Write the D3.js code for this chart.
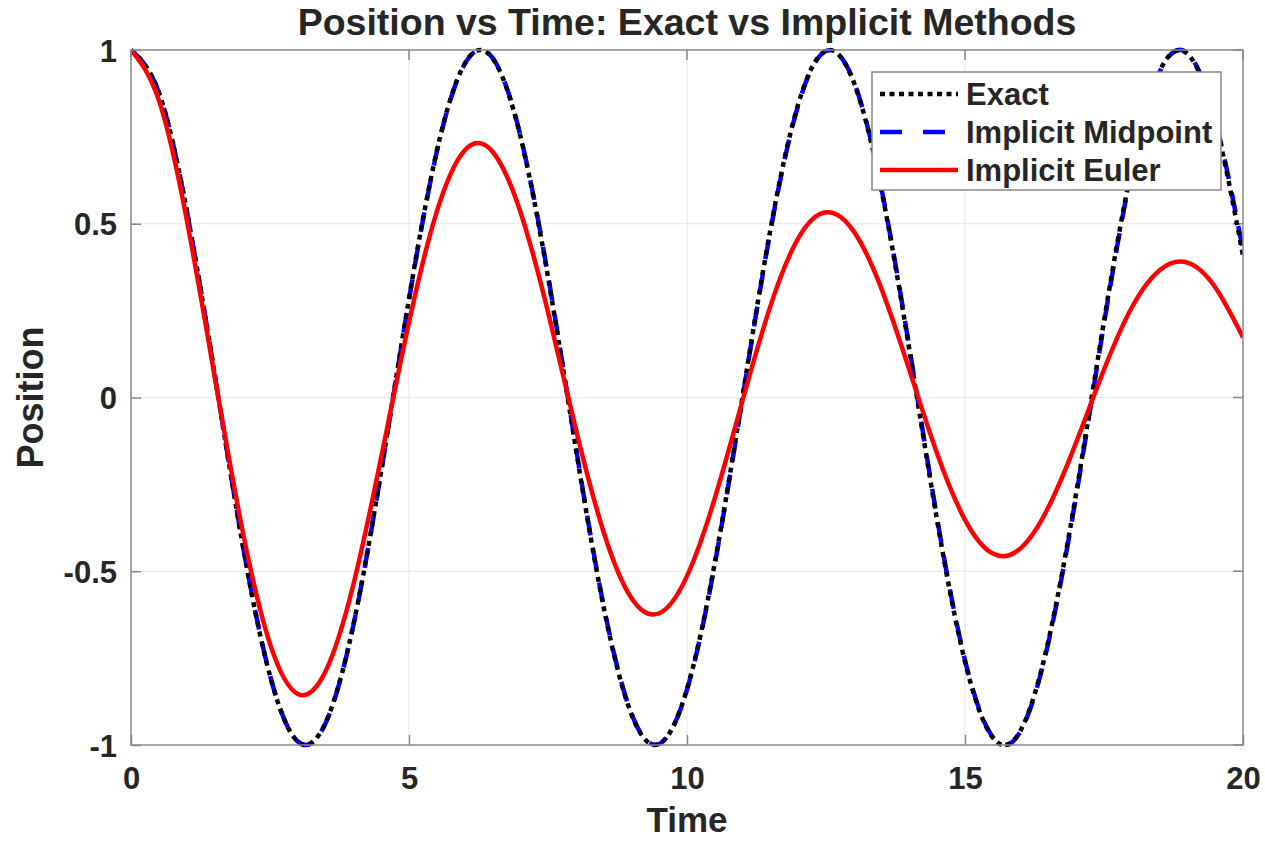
<!DOCTYPE html>
<html>
<head>
<meta charset="utf-8">
<script src="https://cdn.jsdelivr.net/npm/d3@7"></script>
<style>
  html, body { margin: 0; padding: 0; background: #fff; }
  text { font-family: "Liberation Sans", Arial, Helvetica, sans-serif; font-weight: bold; fill: #262626; }
</style>
</head>
<body>
<div id="chart"></div>
<script>
// time samples (step 0.5 s)
const time = [0, 0.5, 1, 1.5, 2, 2.5, 3, 3.5, 4, 4.5, 5, 5.5, 6, 6.5, 7, 7.5, 8, 8.5, 9, 9.5, 10,
  10.5, 11, 11.5, 12, 12.5, 13, 13.5, 14, 14.5, 15, 15.5, 16, 16.5, 17, 17.5, 18, 18.5, 19, 19.5, 20]

const exact = [1, 0.878, 0.540, 0.071, -0.416, -0.801, -0.990, -0.936, -0.654, -0.211, 0.284,
  0.709, 0.960, 0.977, 0.754, 0.347, -0.146, -0.602, -0.911, -0.997, -0.839,
  -0.476, 0.004, 0.483, 0.844, 0.998, 0.907, 0.595, 0.137, -0.355, -0.760,
  -0.979, -0.958, -0.700, -0.275, 0.220, 0.660, 0.939, 0.989, 0.795, 0.408]

const midpoint = [1, 0.878, 0.540, 0.071, -0.415, -0.800, -0.990, -0.937, -0.655, -0.213, 0.281,
  0.707, 0.959, 0.978, 0.756, 0.351, -0.142, -0.599, -0.909, -0.997, -0.841,
  -0.480, 0.000, 0.479, 0.841, 0.997, 0.909, 0.599, 0.143, -0.349, -0.756,
  -0.977, -0.960, -0.705, -0.282, 0.212, 0.654, 0.936, 0.991, 0.800, 0.424]

const euler = [1, 0.856, 0.514, 0.065, -0.378, -0.709, -0.853, -0.788, -0.538, -0.172, 0.216,
  0.535, 0.711, 0.708, 0.536, 0.246, -0.090, -0.387, -0.577, -0.621, -0.514,
  -0.290, -0.008, 0.263, 0.458, 0.533, 0.478, 0.312, 0.079, -0.162, -0.352,
  -0.449, -0.434, -0.316, -0.129, 0.080, 0.259, 0.366, 0.388, 0.317, 0.173]

const xTicks = [0, 5, 10, 15, 20]
const yTicks = [-1, -0.5, 0, 0.5, 1]

const seriesNames = ['Exact', 'Implicit Midpoint', 'Implicit Euler']

const W = 1265, H = 841
const m = { left: 131, right: 22, top: 50, bottom: 96 }
const iw = W - m.left - m.right,
    ih = H - m.top - m.bottom

const svg = d3.select('#chart')
    .append('svg')
    .attr('width', W)
    .attr('height', H)

const x = d3.scaleLinear().domain([0, 20]).range([m.left, m.left + iw])
const y = d3.scaleLinear().domain([-1, 1]).range([m.top + ih, m.top])

// grid
svg.append('g').selectAll('line')
    .data(xTicks.slice(1, -1))
    .enter()
    .append('line')
    .attr('x1', d => x(d)).attr('x2', d => x(d))
    .attr('y1', m.top).attr('y2', m.top + ih)
    .attr('stroke', '#e6e6e6').attr('stroke-width', 1)
svg.append('g').selectAll('line')
    .data(yTicks.slice(1, -1))
    .enter()
    .append('line')
    .attr('x1', m.left).attr('x2', m.left + iw)
    .attr('y1', d => y(d)).attr('y2', d => y(d))
    .attr('stroke', '#e6e6e6').attr('stroke-width', 1)

// axes (ticks pointing inward, box on)
const xAxis = d3.axisBottom(x).tickValues(xTicks).tickSizeInner(-10).tickSizeOuter(0).tickPadding(14)
const yAxis = d3.axisLeft(y).tickValues(yTicks).tickSizeInner(-10).tickSizeOuter(0).tickPadding(14)
    .tickFormat(d => d)

const gx = svg.append('g')
    .attr('transform', `translate(0,${m.top + ih})`)
    .call(xAxis)
const gy = svg.append('g')
    .attr('transform', `translate(${m.left},0)`)
    .call(yAxis)
for (const g of [gx, gy]) {
    g.select('.domain').remove()
    g.selectAll('.tick line').attr('stroke', '#888').attr('stroke-width', 1.5)
    g.selectAll('.tick text')
        .attr('font-size', 31)
        .attr('fill', '#262626')
        .style('font-family', '"Liberation Sans", Arial, sans-serif')
        .style('font-weight', 'bold')
}
gx.selectAll('.tick text').attr('dy', '0.97em')
gy.selectAll('.tick text').attr('dy', '0.36em')
// top/right tick marks
svg.append('g').selectAll('line')
    .data(xTicks)
    .enter()
    .append('line')
    .attr('x1', d => x(d)).attr('x2', d => x(d))
    .attr('y1', m.top).attr('y2', m.top + 10)
    .attr('stroke', '#888').attr('stroke-width', 1.5)
svg.append('g').selectAll('line')
    .data(yTicks)
    .enter()
    .append('line')
    .attr('x1', m.left + iw).attr('x2', m.left + iw - 10)
    .attr('y1', d => y(d)).attr('y2', d => y(d))
    .attr('stroke', '#888').attr('stroke-width', 1.5)

// curves
const mkLine = vals => d3.line()
    .x((d, i) => x(time[i]))
    .y(d => y(d))
    .curve(d3.curveNatural)(vals)

svg.append('defs').append('clipPath').attr('id', 'clip')
    .append('rect').attr('x', m.left).attr('y', m.top - 4).attr('width', iw).attr('height', ih + 8)
const plot = svg.append('g').attr('clip-path', 'url(#clip)')

plot.append('path')
    .attr('d', mkLine(midpoint))
    .attr('fill', 'none')
    .attr('stroke', '#0000ff')
    .attr('stroke-width', 4.5)
    .attr('stroke-dasharray', '20,14')
plot.append('path')
    .attr('d', mkLine(exact))
    .attr('fill', 'none')
    .attr('stroke', '#000')
    .attr('stroke-width', 4.5)
    .attr('stroke-dasharray', '5,5')
plot.append('path')
    .attr('d', mkLine(euler))
    .attr('fill', 'none')
    .attr('stroke', '#ff0000')
    .attr('stroke-width', 4.5)

// axes box
svg.append('rect')
    .attr('x', m.left).attr('y', m.top)
    .attr('width', iw).attr('height', ih)
    .attr('fill', 'none')
    .attr('stroke', '#888')
    .attr('stroke-width', 1.5)

// legend
const lg = svg.append('g').attr('transform', 'translate(872,72)')
lg.append('rect')
    .attr('width', 349).attr('height', 118)
    .attr('fill', '#fff')
    .attr('stroke', '#888')
    .attr('stroke-width', 1.5)
const legendStyles = [
    { stroke: '#000', dash: '5,4.5' },
    { stroke: '#0000ff', dash: '22,21' },
    { stroke: '#ff0000', dash: null }
]
seriesNames.forEach((name, i) => {
    const yy = 22 + i * 38
    lg.append('line')
        .attr('x1', 8).attr('x2', 86)
        .attr('y1', yy).attr('y2', yy)
        .attr('stroke', legendStyles[i].stroke)
        .attr('stroke-width', 4.5)
        .attr('stroke-dasharray', legendStyles[i].dash)
    lg.append('text')
        .attr('x', 94).attr('y', yy)
        .attr('dy', '0.36em')
        .attr('font-size', 31)
        .text(name)
})

// titles
svg.append('text')
    .attr('x', m.left + iw / 2).attr('y', 35)
    .attr('text-anchor', 'middle')
    .attr('font-size', 37.5)
    .text('Position vs Time: Exact vs Implicit Methods')
svg.append('text')
    .attr('x', m.left + iw / 2).attr('y', 832)
    .attr('text-anchor', 'middle')
    .attr('font-size', 35)
    .text('Time')
svg.append('text')
    .attr('transform', `translate(43,${m.top + ih / 2}) rotate(-90)`)
    .attr('text-anchor', 'middle')
    .attr('font-size', 36)
    .text('Position')
</script>
</body>
</html>
